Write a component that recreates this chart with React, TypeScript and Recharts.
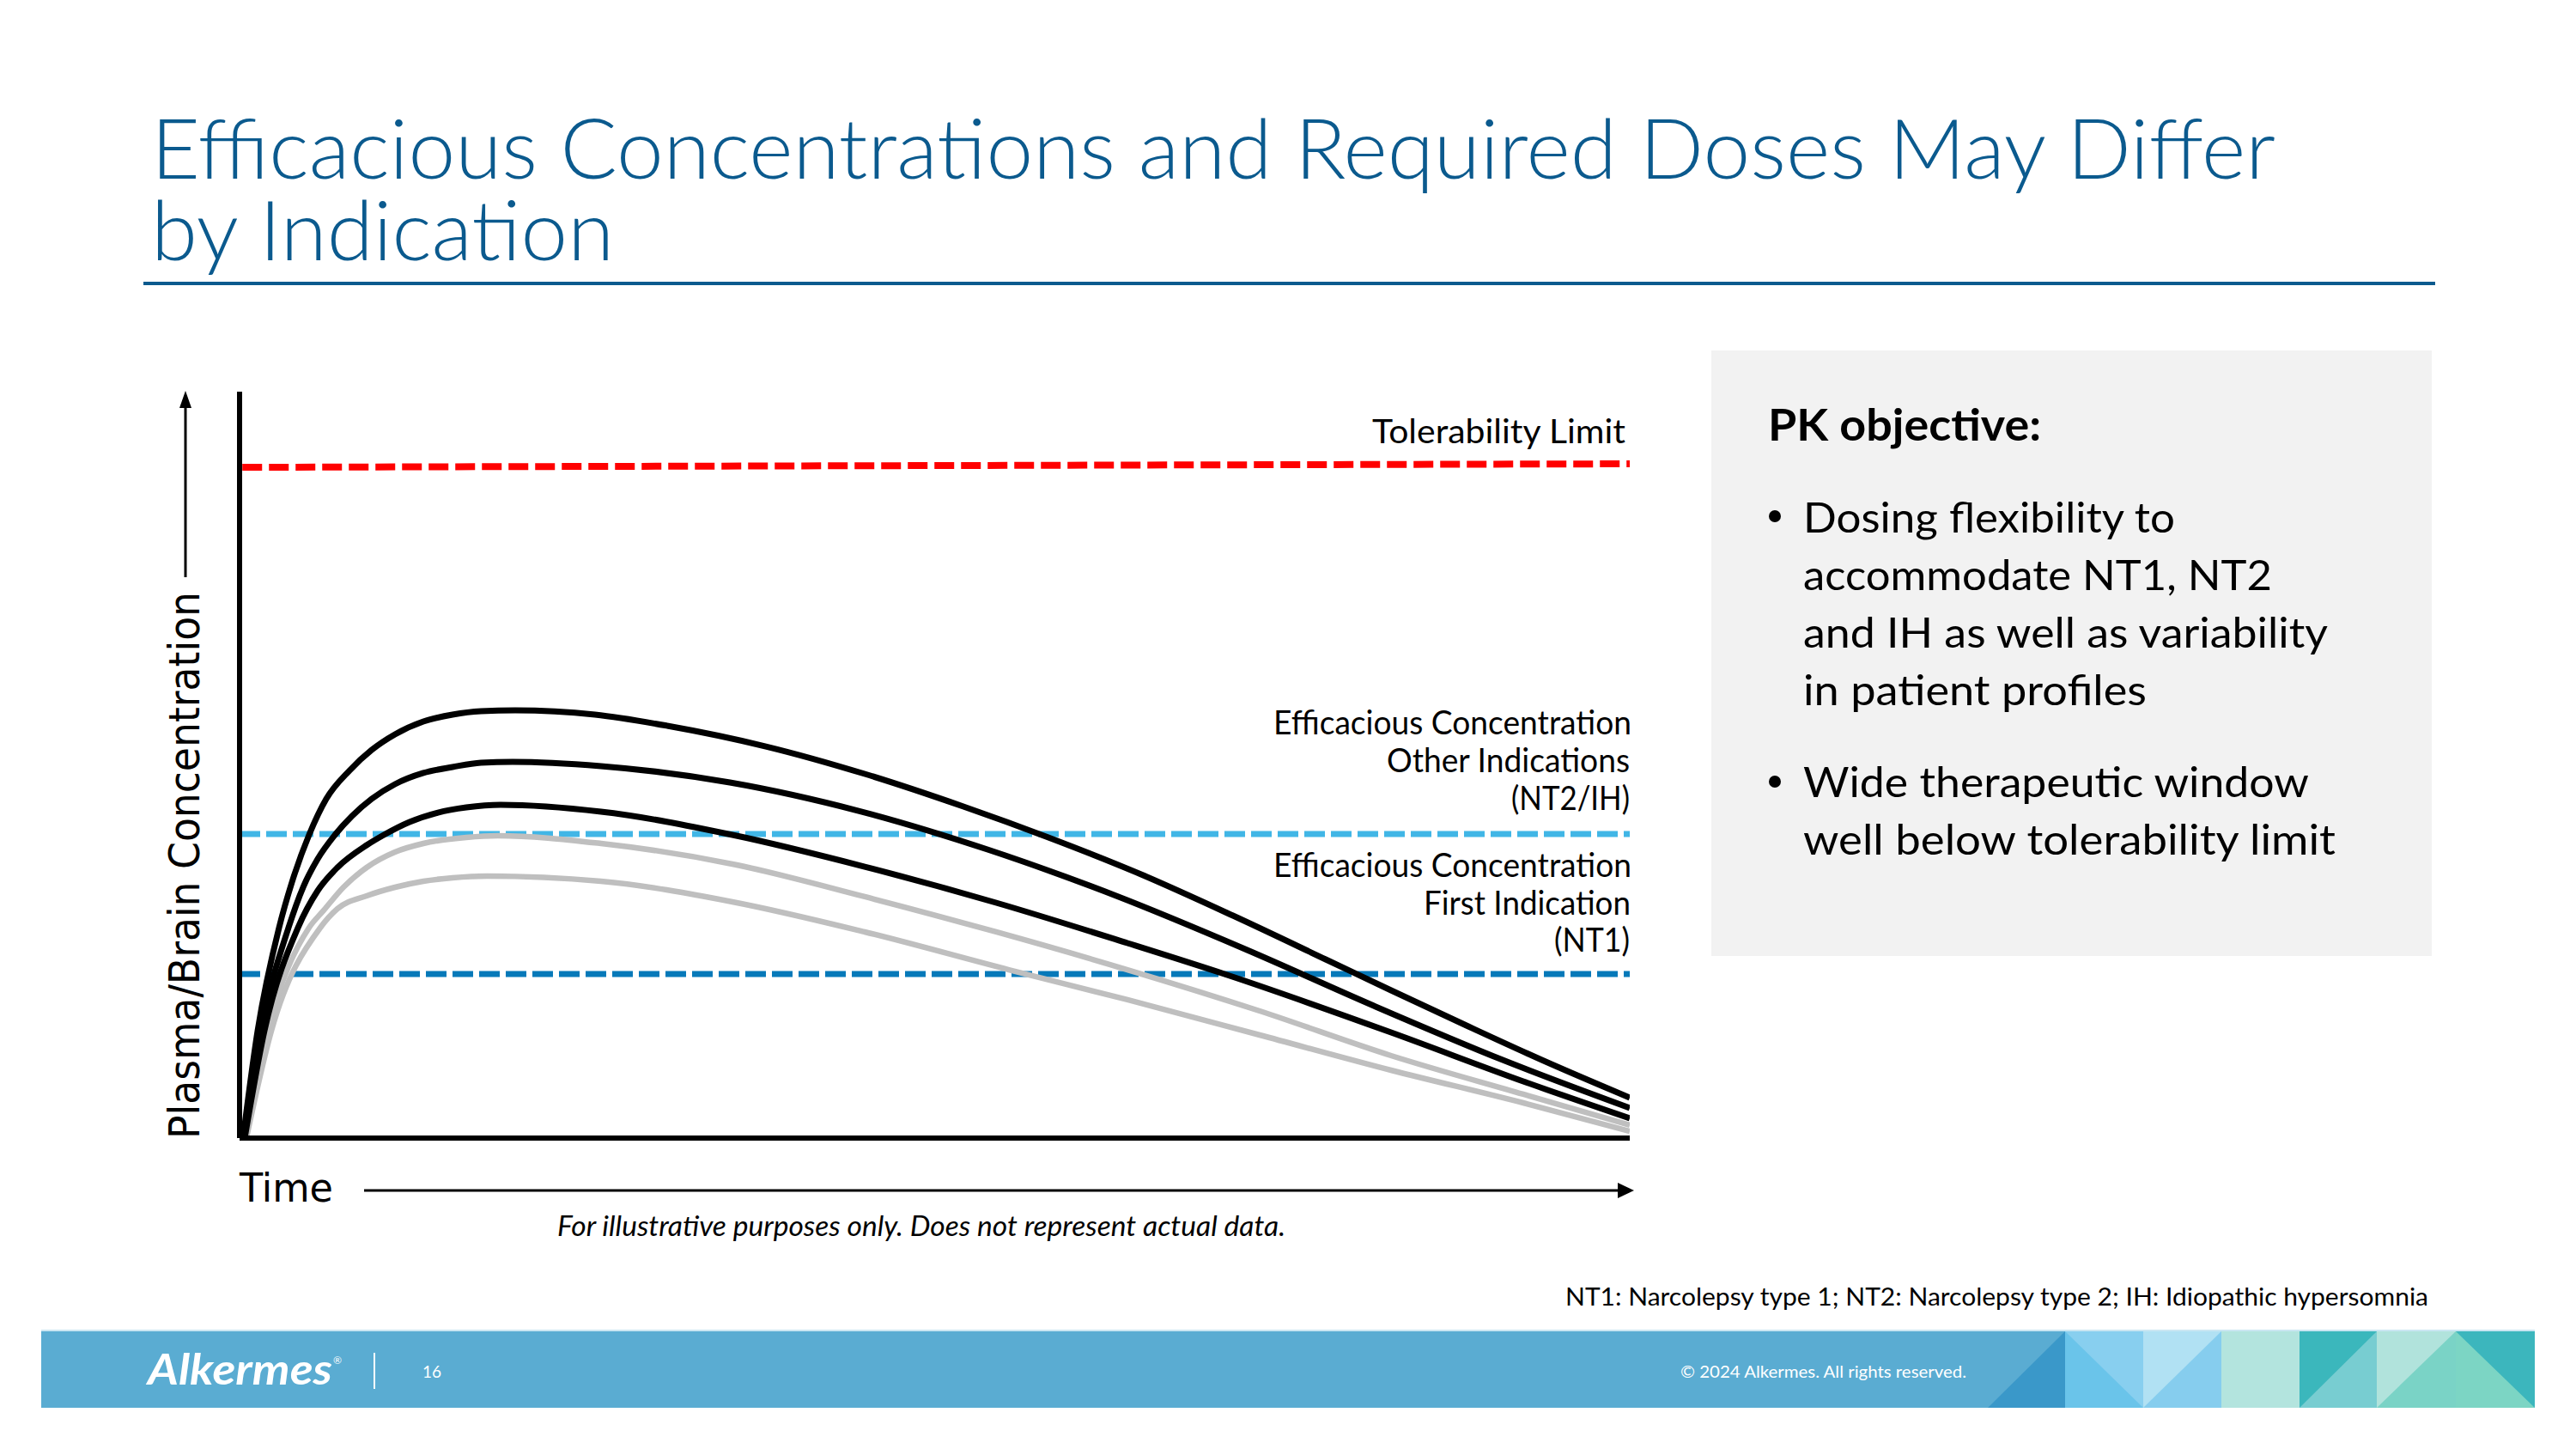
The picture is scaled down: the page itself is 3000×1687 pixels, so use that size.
import React from "react";
import { LineChart, Line, XAxis, YAxis, ReferenceLine } from "recharts";

type P = { t: number; v: number };
const mk = (pts: number[][]): P[] => pts.map(([t, v]) => ({ t, v }));

// Illustrative PK curves (time 0-100, concentration 0-100)
const black1 = mk([[0.25,0],[1.30,14.38],[2.84,28.19],[3.77,34.29],[5.00,40.62],[6.24,45.45],[7.91,49.25],[9.51,52.01],[11.18,54.09],[13.22,55.81],[15.32,56.73],[17.36,57.19],[19.83,57.31],[25.57,56.73],[30.76,55.24],[37.86,52.47],[44.97,48.79],[52.07,44.42],[58.18,40.28],[64.85,35.33],[71.46,29.80],[78.13,23.94],[82.83,19.79],[88.39,14.96],[93.95,10.24],[100,5.41]]);
const black2 = mk([[0.31,0],[1.54,14.38],[3.52,28.19],[4.57,33.60],[5.62,37.40],[6.86,40.62],[8.09,43.15],[9.51,45.45],[11.18,47.41],[13.22,48.91],[15.32,49.71],[17.36,50.29],[19.64,50.40],[26.00,49.83],[35.27,47.64],[44.53,43.84],[53.80,38.67],[63.06,32.45],[72.33,25.32],[81.59,17.72],[90.86,10.47],[100,4.03]]);
const black3 = mk([[0.37,0],[1.79,14.38],[4.20,28.19],[5.62,33.14],[7.04,36.25],[9.14,39.24],[10.38,40.62],[12.23,42.35],[14.27,43.61],[16.31,44.30],[18.78,44.65],[26.00,43.73],[35.45,40.62],[44.97,36.36],[54.42,31.53],[63.87,26.12],[71.03,21.86],[82.83,14.15],[92.34,7.60],[100,2.65]]);
const gray1 = mk([[0.43,0],[2.04,14.38],[5.00,28.19],[6.05,30.50],[7.47,33.60],[9.14,36.25],[11.18,38.32],[13.22,39.47],[16.31,40.28],[18.59,40.51],[26.00,39.47],[35.45,36.71],[44.97,32.34],[54.42,27.62],[63.87,22.55],[73.38,17.03],[82.83,11.05],[92.34,5.87],[100,1.73]]);
const gray2 = mk([[0.49,0],[2.29,14.38],[5.81,28.19],[7.04,30.72],[9.14,32.45],[11.18,33.60],[13.22,34.41],[15.32,34.87],[17.79,35.10],[26.00,34.41],[35.45,31.65],[44.97,27.62],[55.34,22.55],[63.87,18.53],[73.38,13.81],[82.83,9.09],[92.34,4.72],[100,0.92]]);

const tolerabilityStart = 89.87;
const tolerabilityEnd = 90.33;
const efficaciousOther = 40.74;
const efficaciousFirst = 21.98;

const bullets1 = ["Dosing flexibility to", "accommodate NT1, NT2", "and IH as well as variability", "in patient profiles"];
const bullets1W = [433, 546, 611, 400];
const bullets2 = ["Wide therapeutic window", "well below tolerability limit"];
const bullets2W = [589, 620];

const CAL = "Lato, 'Open Sans', sans-serif";
const VER = "'DejaVu Sans', sans-serif";

function T(props: { x: number; y: number; w?: number; size: number; fill?: string; family?: string; weight?: any; italic?: boolean; children: React.ReactNode }) {
  const { x, y, w, size, fill = "#000", family = CAL, weight = 400, italic = false, children } = props;
  return (
    <text x={x} y={y} fontSize={size} fill={fill} fontFamily={family} fontWeight={weight} fontStyle={italic ? "italic" : "normal"}
      {...(w ? { textLength: w, lengthAdjust: "spacingAndGlyphs" } : {})}>
      {children}
    </text>
  );
}

export default function App() {
  const titleColor = "#0B5A8E";
  const lineCommon = { dataKey: "v", type: "monotone" as const, dot: false, activeDot: false, isAnimationActive: false };
  return (
    <div style={{ position: "absolute", left: 0, top: 0, width: 3000, height: 1687, background: "#fff", overflow: "hidden" }}>
      <svg width={3000} height={1687} style={{ position: "absolute", left: 0, top: 0 }}>
        {/* Title (one text, two lines) */}
        <text fontSize={96} fill={titleColor} fontFamily={CAL} fontWeight={300}>
          <tspan x={176} y={208} textLength={2474} lengthAdjust="spacingAndGlyphs">Efficacious Concentrations and Required Doses May Differ</tspan>
          <tspan x={176} y={303} textLength={539} lengthAdjust="spacingAndGlyphs">by Indication</tspan>
        </text>
        <rect x={167} y={328} width={2669} height={4} fill={titleColor} />

        {/* Y label + arrow */}
        <text transform="translate(232,1326) rotate(-90)" x={0} y={0} fontSize={50} fontFamily={VER} fill="#000" textLength={637} lengthAdjust="spacingAndGlyphs">Plasma/Brain Concentration</text>
        <line x1={216} y1={672} x2={216} y2={470} stroke="#000" strokeWidth={3} />
        <polygon points="216,455 209,475 223,475" fill="#000" />

        {/* Time label + arrow */}
        <T x={279} y={1399} w={109} size={47} family={VER}>Time</T>
        <line x1={424} y1={1386} x2={1886} y2={1386} stroke="#000" strokeWidth={3} />
        <polygon points="1903,1386 1884,1377 1884,1395" fill="#000" />

        <T x={649} y={1439} w={848} size={32} italic>For illustrative purposes only. Does not represent actual data.</T>

        {/* Annotations */}
        <T x={1598} y={516} w={295} size={38}>Tolerability Limit</T>
        <T x={1483} y={855} w={417} size={38}>Efficacious Concentration</T>
        <T x={1615} y={899} w={283} size={38}>Other Indications</T>
        <T x={1760} y={943} w={138} size={38}>(NT2/IH)</T>
        <T x={1483} y={1021} w={417} size={38}>Efficacious Concentration</T>
        <T x={1658} y={1065} w={241} size={38}>First Indication</T>
        <T x={1810} y={1108} w={88} size={38}>(NT1)</T>

        {/* Right panel */}
        <rect x={1993} y={408} width={839} height={705} fill="#F2F2F2" />
        <T x={2059} y={513} w={318} size={52} weight={700}>PK objective:</T>
        <circle cx={2067} cy={601} r={7} fill="#000" />
        {bullets1.map((s, i) => (
          <T key={s} x={2100} y={620 + i * 67} w={bullets1W[i]} size={48}>{s}</T>
        ))}
        <circle cx={2067} cy={910} r={7} fill="#000" />
        {bullets2.map((s, i) => (
          <T key={s} x={2100} y={928 + i * 67} w={bullets2W[i]} size={48}>{s}</T>
        ))}

        {/* Footnote */}
        <T x={1823} y={1520} w={1005} size={28}>NT1: Narcolepsy type 1; NT2: Narcolepsy type 2; IH: Idiopathic hypersomnia</T>

        {/* Footer bar */}
        <rect x={48} y={1548} width={2904} height={2} fill="#CBE6F2" />
        <rect x={48} y={1550} width={2904} height={89} fill="#5AACD2" />
        <polygon points="2315,1639 2405,1550 2405,1639" fill="#3A98C9" />
        <rect x={2405} y={1550} width={91} height={89} fill="#6AC4EA" />
        <polygon points="2405,1550 2496,1550 2496,1639" fill="#88CFEF" />
        <rect x={2496} y={1550} width={91} height={89} fill="#B1E1F3" />
        <polygon points="2587,1550 2587,1639 2496,1639" fill="#86CDEE" />
        <rect x={2587} y={1550} width={91} height={89} fill="#B3E4DE" />
        <rect x={2678} y={1550} width={90} height={89} fill="#3BB7BC" />
        <polygon points="2768,1550 2768,1639 2678,1639" fill="#78CDD1" />
        <rect x={2768} y={1550} width={92} height={89} fill="#B1E3DC" />
        <polygon points="2768,1639 2860,1550 2860,1639" fill="#7AD3C6" />
        <rect x={2860} y={1550} width={92} height={89} fill="#7CD5C4" />
        <polygon points="2860,1550 2952,1550 2952,1639" fill="#3CB6BD" />

        <T x={172} y={1612} w={215} size={50} fill="#fff" weight={700} italic>Alkermes</T>
        <T x={388} y={1588} size={12} fill="#fff">®</T>
        <rect x={435} y={1575} width={2} height={42} fill="#fff" />
        <T x={492} y={1604} w={22} size={20} fill="#fff">16</T>
        <T x={1957} y={1604} w={333} size={20} fill="#fff">© 2024 Alkermes. All rights reserved.</T>
      </svg>

      <div style={{ position: "absolute", left: 200, top: 400 }}>
        <LineChart width={1800} height={1000} margin={{ top: 56, right: 102, bottom: 75, left: 79 }}>
          <XAxis type="number" dataKey="t" domain={[0, 100]} hide allowDataOverflow />
          <YAxis type="number" dataKey="v" domain={[0, 100]} hide allowDataOverflow />
          <ReferenceLine segment={[{ x: 0.2, y: tolerabilityStart }, { x: 100, y: tolerabilityEnd }]} stroke="#FF0000" strokeWidth={8} strokeDasharray="23 8" />
          <ReferenceLine y={efficaciousOther} stroke="#41B6E6" strokeWidth={7} strokeDasharray="24 7" />
          <ReferenceLine y={efficaciousFirst} stroke="#0779B9" strokeWidth={7} strokeDasharray="24 7" />
          <Line data={gray2} {...lineCommon} stroke="#BFBFBF" strokeWidth={6.5} />
          <Line data={gray1} {...lineCommon} stroke="#BFBFBF" strokeWidth={6.5} />
          <Line data={black3} {...lineCommon} stroke="#000" strokeWidth={7} />
          <Line data={black2} {...lineCommon} stroke="#000" strokeWidth={7} />
          <Line data={black1} {...lineCommon} stroke="#000" strokeWidth={7} />
          <ReferenceLine x={0} stroke="#000" strokeWidth={6} />
          <ReferenceLine y={0} stroke="#000" strokeWidth={6} />
        </LineChart>
      </div>
    </div>
  );
}
